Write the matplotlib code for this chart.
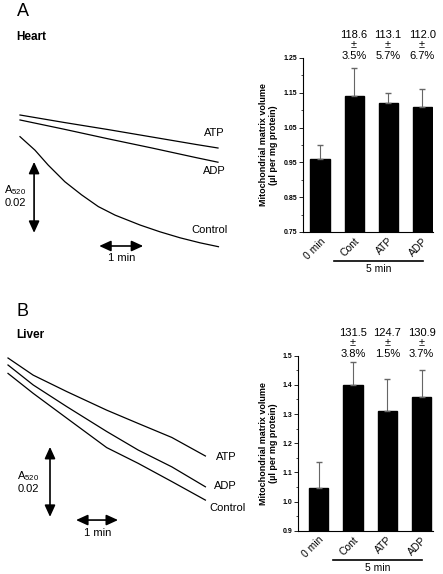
import matplotlib
matplotlib.use("Agg")
import matplotlib.pyplot as plt
from matplotlib.ticker import MultipleLocator

plt.rcParams["font.family"] = ["Liberation Sans", "DejaVu Sans"]
plt.rcParams["mathtext.default"] = "regular"

W, H = 443, 574

# swelling traces: time (min) vs change in A520 (x 1e-3)
heart_time = [0, 1, 2, 3, 4, 4.5]
heart_atp = [0.0, -2.1, -4.1, -6.2, -8.3, -9.3]
heart_adp = [-1.4, -4.0, -6.7, -9.3, -12.0, -13.3]
heart_control_time = [0, 0.34, 0.64, 1.02, 1.40, 1.78, 2.16, 2.73, 3.18, 3.64, 4.09, 4.51]
heart_control = [-6.1, -9.9, -14.1, -18.8, -22.5, -25.8, -28.2, -31.0, -32.9, -34.6, -36.0, -37.1]

liver_time = [0, 0.6, 1.4, 2.35, 3.1, 3.9, 4.7]
liver_atp = [0.0, -4.9, -9.6, -14.9, -18.7, -22.7, -28.0]
liver_adp = [-2.0, -7.7, -13.9, -21.0, -26.3, -31.1, -36.8]
liver_control = [-4.4, -10.1, -17.2, -25.6, -30.1, -35.3, -40.6]

# matrix volume (ul per mg protein)
categories = ["0 min", "Cont", "ATP", "ADP"]
heart_volume = [0.96, 1.14, 1.12, 1.11]
heart_err = [0.04, 0.08, 0.03, 0.05]
heart_notes = ["", "118.6\n±\n3.5%", "113.1\n±\n5.7%", "112.0\n±\n6.7%"]
liver_volume = [1.045, 1.40, 1.31, 1.36]
liver_err = [0.09, 0.08, 0.11, 0.09]
liver_notes = ["", "131.5\n±\n3.8%", "124.7\n±\n1.5%", "130.9\n±\n3.7%"]


def px(x, y):
    return x / W, 1 - y / H


def trace_axes(fig, box, origin, px_per_min, px_per_unit):
    left, top, right, bottom = box
    ax = fig.add_axes([left / W, 1 - bottom / H, (right - left) / W, (bottom - top) / H])
    ax.set_xlim((left - origin[0]) / px_per_min, (right - origin[0]) / px_per_min)
    ax.set_ylim((origin[1] - bottom) / px_per_unit, (origin[1] - top) / px_per_unit)
    ax.axis("off")
    return ax


def double_arrow(ax, start, end):
    ax.annotate("", xy=end, xytext=start,
                arrowprops=dict(arrowstyle="<|-|>,head_length=0.7,head_width=0.32",
                                color="black", lw=1.2, shrinkA=0, shrinkB=0))


def bar_panel(fig, rect, values, errors, ylim, offset, notes, xlim, note_y, label_x):
    ax = fig.add_axes(rect)
    x = list(range(len(categories)))
    ax.bar(x, values, width=0.56, color="black", edgecolor="black")
    ax.errorbar(x, values, yerr=[[0] * len(errors), errors], fmt="none",
                ecolor="0.4", elinewidth=0.8, capsize=2)
    ax.set_xlim(*xlim)
    ax.set_ylim(*ylim)
    ax.yaxis.set_major_locator(MultipleLocator(0.1, offset=offset))
    ax.yaxis.set_minor_locator(MultipleLocator(0.05))
    ax.tick_params(axis="y", which="major", length=3, width=0.6, labelsize=5, pad=1)
    ax.tick_params(axis="y", which="minor", length=1.5, width=0.5)
    for lab in ax.get_yticklabels():
        lab.set_fontweight("bold")
    ax.set_xticks(x)
    ax.set_xticklabels(categories, rotation=45, ha="right", rotation_mode="anchor", fontsize=7.5)
    ax.tick_params(axis="x", length=0, pad=3)
    for side in ["top", "right"]:
        ax.spines[side].set_visible(False)
    for side in ["left", "bottom"]:
        ax.spines[side].set_linewidth(0.8)
    ax.set_ylabel("Mitochondrial matrix volume\n(µl per mg protein)", fontsize=6.5,
                  fontweight="bold", linespacing=1.15)
    ax.yaxis.set_label_coords(label_x, 0.5)

    tr = ax.get_xaxis_transform()
    for i, note in enumerate(notes):
        if note:
            ax.text(i, note_y, note, transform=tr, ha="center", va="center",
                    fontsize=8, linespacing=1.1, clip_on=False)
    ax.plot([0.42, 3.02], [-0.168, -0.168], color="black", lw=1.2,
            transform=tr, clip_on=False)
    ax.text(1.72, -0.215, "5 min", transform=tr, ha="center", va="center", fontsize=7.5)
    return ax


def main() -> None:
    fig = plt.figure(figsize=(W / 100, H / 100), dpi=100)

    # panel A - heart
    fig.text(*px(17, 12), "A", fontsize=13, va="center", ha="left")
    fig.text(*px(16, 37), "Heart", fontsize=8.5, fontweight="bold", va="center", ha="left")
    ax = trace_axes(fig, (0, 90, 250, 280), (20, 115), 44, 3.55)
    ax.plot(heart_time, heart_atp, color="black", lw=0.9)
    ax.plot(heart_time, heart_adp, color="black", lw=0.9)
    ax.plot(heart_control_time, heart_control, color="black", lw=0.9)
    double_arrow(ax, (0.32, -13.2), (0.32, -33.2))
    double_arrow(ax, (1.8, -36.9), (2.8, -36.9))
    fig.text(*px(214, 133), "ATP", fontsize=8, ha="center", va="center")
    fig.text(*px(214, 171), "ADP", fontsize=8, ha="center", va="center")
    fig.text(*px(209, 230), "Control", fontsize=8, ha="center", va="center")
    fig.text(*px(15, 190), "A$_{520}$", fontsize=8, ha="center", va="center")
    fig.text(*px(15, 203), "0.02", fontsize=8, ha="center", va="center")
    fig.text(*px(122, 258), "1 min", fontsize=8, ha="center", va="center")

    bar_panel(fig, [303 / W, 1 - 232 / H, 130 / W, 174 / H], heart_volume, heart_err,
              (0.75, 1.25), 0.05, heart_notes, (-0.5, 3.32), 1.072, -0.192)

    # panel B - liver
    fig.text(*px(17, 311), "B", fontsize=13, va="center", ha="left")
    fig.text(*px(16, 335), "Liver", fontsize=8.5, fontweight="bold", va="center", ha="left")
    ax = trace_axes(fig, (0, 345, 255, 545), (8, 358), 42, 3.5)
    for y in [liver_atp, liver_adp, liver_control]:
        ax.plot(liver_time, y, color="black", lw=0.9)
    double_arrow(ax, (1.0, -25.4), (1.0, -45.4))
    double_arrow(ax, (1.62, -46.3), (2.62, -46.3))
    fig.text(*px(226, 457), "ATP", fontsize=8, ha="center", va="center")
    fig.text(*px(225, 486), "ADP", fontsize=8, ha="center", va="center")
    fig.text(*px(228, 508), "Control", fontsize=8, ha="center", va="center")
    fig.text(*px(28, 476), "A$_{520}$", fontsize=8, ha="center", va="center")
    fig.text(*px(28, 489), "0.02", fontsize=8, ha="center", va="center")
    fig.text(*px(98, 533), "1 min", fontsize=8, ha="center", va="center")

    bar_panel(fig, [298 / W, 1 - 530.7 / H, 135 / W, 175 / H], liver_volume, liver_err,
              (0.9, 1.5), 0.0, liver_notes, (-0.6, 3.33), 1.07, -0.148)

    fig.savefig("out.png", dpi=100)
    plt.close(fig)


if __name__ == "__main__":
    main()
